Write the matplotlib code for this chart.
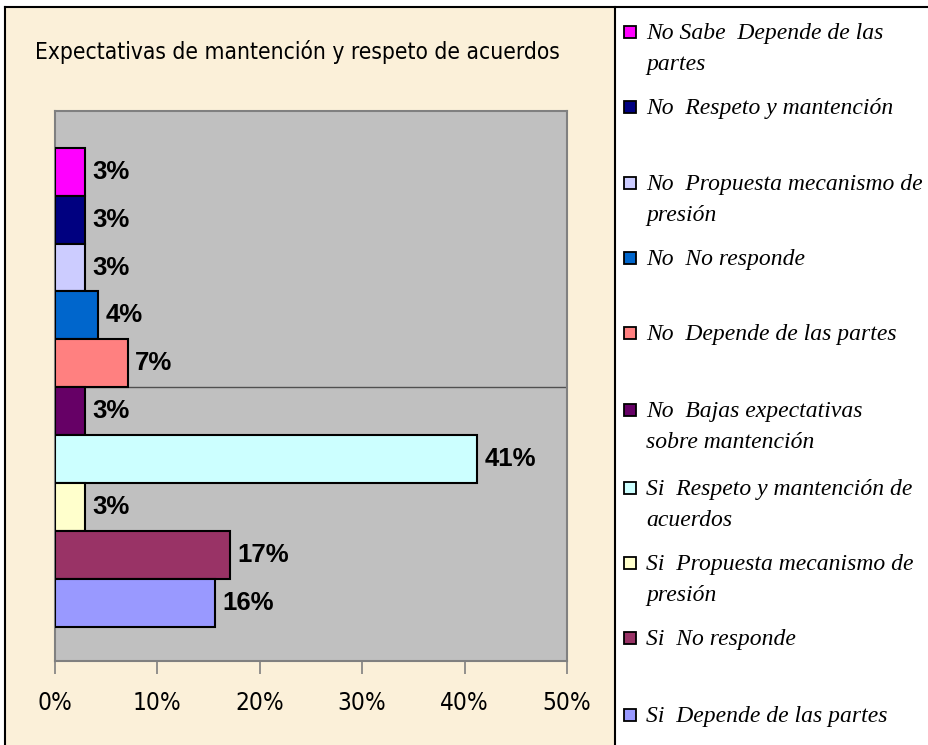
import matplotlib
matplotlib.use('Agg')
import matplotlib.pyplot as plt
from matplotlib.patches import Rectangle
from matplotlib.lines import Line2D


# series, top to bottom as drawn
series = ["No Sabe  Depende de las\npartes",
          "No  Respeto y mantención",
          "No  Propuesta mecanismo de\npresión",
          "No  No responde",
          "No  Depende de las partes",
          "No  Bajas expectativas\nsobre mantención",
          "Si  Respeto y mantención de\nacuerdos",
          "Si  Propuesta mecanismo de\npresión",
          "Si  No responde",
          "Si  Depende de las partes"]
values = [2.9, 2.9, 2.9, 4.2, 7.1, 2.9, 41.2, 2.9, 17.1, 15.6]
colors = ["#FF00FF", "#000080", "#CCCCFF", "#0066CC", "#FF8080",
          "#660066", "#CCFFFF", "#FFFFCC", "#993366", "#9999FF"]
ticks = [0, 10, 20, 30, 40, 50]
title = "Expectativas de mantención y respeto de acuerdos"

# legend first-line centres, in pixels from the top
leg_y = [32, 107, 183, 258, 333, 410, 488, 563, 638, 715]

W, H = 929, 745


def fx(px):
    return px / W


def fy(py):
    return 1 - py / H


fig = plt.figure(figsize=(W / 100, H / 100), dpi=100)
fig.patch.set_facecolor('white')

# parchment panel and frame lines
fig.patches.append(Rectangle((fx(5), 0), fx(615) - fx(5), fy(7), transform=fig.transFigure,
                             facecolor='#FBF0D9', edgecolor='none', zorder=-10))
for xs, ys in [([fx(5), 1], [fy(7), fy(7)]),
               ([fx(5), fx(5)], [0, fy(7)]),
               ([fx(615), fx(615)], [0, fy(7)])]:
    fig.add_artist(Line2D(xs, ys, transform=fig.transFigure, color='black', lw=1.5))

ax = fig.add_axes([fx(54.8), fy(660.7), fx(567) - fx(54.8), fy(110.7) - fy(660.7)])
ax.set_facecolor('#C0C0C0')

pos = list(range(len(values)))
ax.barh(pos, values, height=1.0, color=colors, edgecolor='black', linewidth=1.5, zorder=3)
for p, v in zip(pos, values):
    ax.text(v + 0.75, p, "%d%%" % round(v), va='center', ha='left',
            fontsize=18.5, fontweight='bold', family='Liberation Sans', zorder=4)

ax.axhline(4.5, color='#505050', lw=1, zorder=2)
ax.set_ylim(9.5 + 0.7, -0.5 - 0.77)
ax.set_xlim(0, 50)
ax.set_yticks([])
ax.set_xticks(ticks)
ax.set_xticklabels(["%d%%" % t for t in ticks], family='DejaVu Sans', stretch='condensed',
                   fontsize=17.5)
ax.tick_params(axis='x', direction='out', length=9, width=1.2, color='#808080', pad=13)
for s in ax.spines.values():
    s.set_color('#808080')
    s.set_linewidth(1.5)

fig.text(fx(297), fy(52), title, ha='center', va='center', fontsize=16.3,
         family='DejaVu Sans', stretch='condensed')

# legend
for lab, c, y in zip(series, colors, leg_y):
    fig.patches.append(Rectangle((fx(624), fy(y + 6)), fx(12), 12 / H, transform=fig.transFigure,
                                 facecolor=c, edgecolor='black', lw=1.3))
    for i, line in enumerate(lab.split("\n")):
        fig.text(fx(646), fy(y + 7 + 31 * i), line, ha='left', va='baseline',
                 fontsize=17, style='italic', family='Liberation Serif')

fig.savefig('out.png', dpi=100)
